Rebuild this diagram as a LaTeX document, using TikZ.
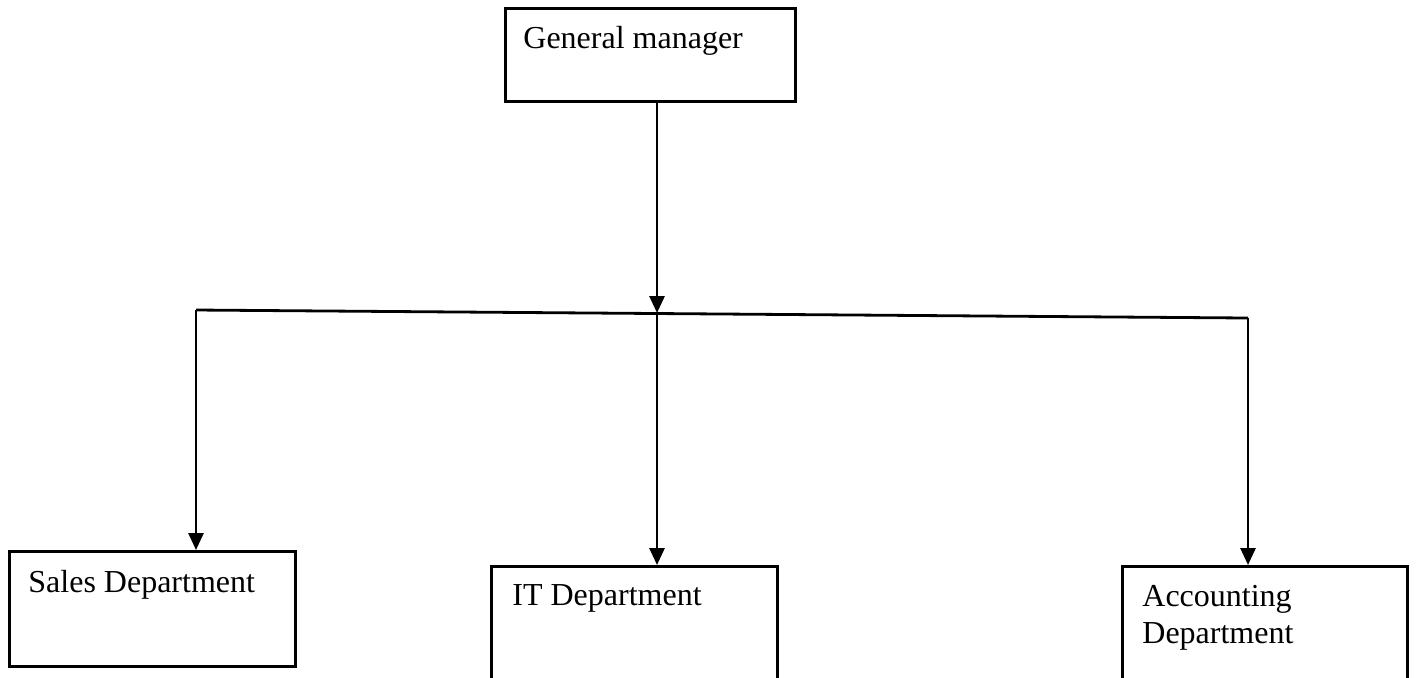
\documentclass[tikz,border=0pt]{standalone}
\usepackage{fontspec}
\setmainfont{Liberation Serif}
\usepackage{tikz}
\usetikzlibrary{arrows.meta}
\usetikzlibrary{positioning}
\tikzset{box/.style = {draw, line width = 1.4pt, rectangle, anchor = north west, inner sep = 0}}
\tikzset{lbl/.style = {anchor = base west, inner sep = 0, align = left, font = \fontsize{16pt}{18.5pt}\selectfont}}
\tikzset{arr/.style = {line width = 1.4pt, -{Triangle[length = 8.5pt, width = 7.5pt]}}}

\begin{document}
\begin{tikzpicture}[x = 0.5pt, y = -0.5pt]
      \useasboundingbox (0, 0) rectangle (1416, 677);
      \clip (0, 0) rectangle (1416, 677);

      \node [box, minimum width = 145pt, minimum height = 46.5pt] (gm) at (504, 7) {};
      \node [lbl] (gmtext) at ([xshift = 9.5pt, yshift = -20.5pt] gm.north west) {General manager};

      \node [box, minimum width = 143pt, minimum height = 57.5pt] (sales) at (8, 550) {};
      \node [lbl] (salestext) at ([xshift = 10pt, yshift = -21pt] sales.north west) {Sales Department};

      \node [box, minimum width = 143pt, minimum height = 65pt] (it) at (490, 565) {};
      \node [lbl] (ittext) at ([xshift = 11pt, yshift = -20pt] it.north west) {IT Department};

      \node [box, minimum width = 142.5pt, minimum height = 65pt] (acc) at (1121, 565) {};
      \node [lbl] (acctext) at ([xshift = 10.5pt, yshift = -39pt] acc.north west) {Accounting\\Department};

      % branch line
      \coordinate (junc) at (657, 313);
      \coordinate (lcorner) at (196, 310);
      \coordinate (rcorner) at (1248, 318);

      \draw [arr] (gm.south -| junc) -- (junc);
      \draw [line width = 1.4pt] (lcorner) -- (rcorner);
      \draw [arr] (lcorner) -- (sales.north -| lcorner);
      \draw [arr] (junc) -- (it.north -| junc);
      \draw [arr] (rcorner) -- (acc.north -| rcorner);
    \end{tikzpicture}
\end{document}
